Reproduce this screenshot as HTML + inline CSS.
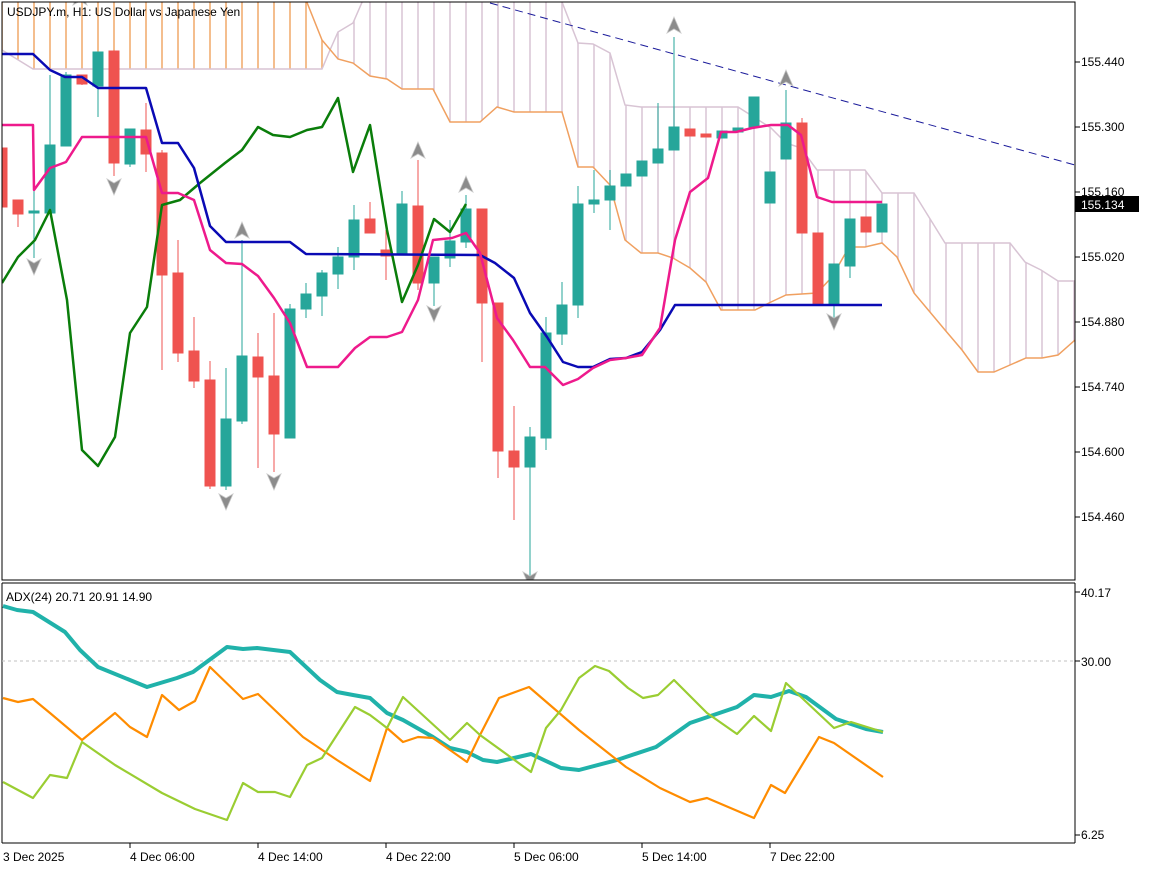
<!DOCTYPE html>
<html><head><meta charset="utf-8"><style>
body{margin:0;background:#fff;}
svg{display:block;font-family:"Liberation Sans","DejaVu Sans",sans-serif;}
</style></head><body>
<svg width="1152" height="870" viewBox="0 0 1152 870" xmlns="http://www.w3.org/2000/svg">
<defs>
<pattern id="ho" patternUnits="userSpaceOnUse" width="16" height="10"><line x1="2" y1="0" x2="2" y2="10" stroke="#f0a868" stroke-width="1.5"/></pattern>
<pattern id="ht" patternUnits="userSpaceOnUse" width="16" height="10"><line x1="2" y1="0" x2="2" y2="10" stroke="#d8c4d4" stroke-width="1.5"/></pattern>
<clipPath id="cm"><rect x="2" y="2" width="1073" height="578"/></clipPath>
<clipPath id="ca"><rect x="2" y="584" width="1073" height="259"/></clipPath>
</defs>
<rect width="1152" height="870" fill="#fff"/>
<g clip-path="url(#cm)">
<polygon fill="url(#ho)" points="2,0 306,0 322,40 330,50 322,69 33,69 2,50"/>
<polygon fill="url(#ht)" points="330,50 338,59 353,63 370,76 387,79 402,89 433,89 450,122 480,122 497,107 514,112 562,112 578,167 593,167 610,185 625,240 641,253 658,253 673,258 690,268 706,282 721,310 755,310 771,302 786,295 817,293 832,277 849,247 865,247 882,243 897,257 914,293 945,330 962,350 978,372 994,372 1010,365 1026,358 1042,358 1058,355 1075,340 1075,281 1058,281 1041,270 1025,262 1010,243 945,243 914,193 882,193 865,170 817,170 801,148 786,143 771,128 738,107 641,107 625,105 610,53 593,44 578,43 562,2 555,0 363,0 353,23 338,32"/>
<polyline fill="none" stroke="#d8c4d4" stroke-width="1.5" points="2,50 33,69 322,69 330,50 338,32 353,23 363,0 555,0 562,2 578,43 593,44 610,53 625,105 641,107 738,107 771,128 786,143 801,148 817,170 865,170 882,193 914,193 945,243 1010,243 1025,262 1041,270 1058,281 1075,281"/>
<polyline fill="none" stroke="#f0a060" stroke-width="1.5" points="306,0 322,40 338,59 353,63 370,76 387,79 402,89 433,89 450,122 480,122 497,107 514,112 562,112 578,167 593,167 610,185 625,240 641,253 658,253 673,258 690,268 706,282 721,310 755,310 771,302 786,295 817,293 832,277 849,247 865,247 882,243 897,257 914,293 945,330 962,350 978,372 994,372 1010,365 1026,358 1042,358 1058,355 1075,340"/>
<line x1="490" y1="3" x2="1075" y2="165" stroke="#1a1a9a" stroke-width="1" stroke-dasharray="8,5"/>
<g stroke-width="1">
<g stroke="#ef5350" fill="#ef5350">
<rect x="-3" y="148" width="10" height="59"/>
<line x1="18" y1="200" x2="18" y2="227"/><rect x="13" y="200" width="10" height="14"/>
<line x1="82" y1="75" x2="82" y2="85"/><rect x="77" y="75" width="10" height="9"/>
<line x1="114" y1="51" x2="114" y2="176"/><rect x="109" y="51" width="10" height="112"/>
<line x1="146" y1="103" x2="146" y2="172"/><rect x="141" y="130" width="10" height="24"/>
<line x1="162" y1="150" x2="162" y2="370"/><rect x="157" y="153" width="10" height="122"/>
<line x1="178" y1="240" x2="178" y2="362"/><rect x="173" y="273" width="10" height="80"/>
<line x1="194" y1="317" x2="194" y2="388"/><rect x="189" y="351" width="10" height="30"/>
<line x1="210" y1="361" x2="210" y2="489"/><rect x="205" y="380" width="10" height="106"/>
<line x1="258" y1="333" x2="258" y2="468"/><rect x="253" y="357" width="10" height="20"/>
<line x1="274" y1="313" x2="274" y2="472"/><rect x="269" y="376" width="10" height="58"/>
<line x1="370" y1="202" x2="370" y2="233"/><rect x="365" y="219" width="10" height="14"/>
<line x1="386" y1="230" x2="386" y2="280"/><rect x="381" y="250" width="10" height="6"/>
<line x1="418" y1="160" x2="418" y2="290"/><rect x="413" y="206" width="10" height="77"/>
<line x1="482" y1="209" x2="482" y2="362"/><rect x="477" y="209" width="10" height="94"/>
<line x1="498" y1="303" x2="498" y2="478"/><rect x="493" y="303" width="10" height="148"/>
<line x1="514" y1="406" x2="514" y2="520"/><rect x="509" y="451" width="10" height="16"/>
<rect x="685" y="129" width="10" height="7"/>
<rect x="701" y="134" width="10" height="3"/>
<line x1="802" y1="118" x2="802" y2="233"/><rect x="797" y="123" width="10" height="110"/>
<rect x="813" y="233" width="10" height="71"/>
<rect x="861" y="217" width="10" height="15"/>
</g>
<g stroke="#26a69a" fill="#26a69a">
<line x1="34" y1="150" x2="34" y2="258"/><rect x="29" y="211" width="10" height="2"/>
<line x1="50" y1="75" x2="50" y2="213"/><rect x="45" y="145" width="10" height="68"/>
<line x1="66" y1="72" x2="66" y2="146"/><rect x="61" y="75" width="10" height="71"/>
<line x1="98" y1="52" x2="98" y2="117"/><rect x="93" y="52" width="10" height="34"/>
<line x1="130" y1="129" x2="130" y2="167"/><rect x="125" y="129" width="10" height="35"/>
<line x1="226" y1="368" x2="226" y2="490"/><rect x="221" y="419" width="10" height="67"/>
<line x1="242" y1="240" x2="242" y2="424"/><rect x="237" y="356" width="10" height="65"/>
<line x1="290" y1="304" x2="290" y2="438"/><rect x="285" y="309" width="10" height="129"/>
<line x1="306" y1="283" x2="306" y2="318"/><rect x="301" y="294" width="10" height="15"/>
<line x1="322" y1="270" x2="322" y2="316"/><rect x="317" y="273" width="10" height="23"/>
<line x1="338" y1="247" x2="338" y2="289"/><rect x="333" y="257" width="10" height="17"/>
<line x1="354" y1="205" x2="354" y2="270"/><rect x="349" y="220" width="10" height="37"/>
<line x1="402" y1="191" x2="402" y2="253"/><rect x="397" y="204" width="10" height="49"/>
<line x1="434" y1="257" x2="434" y2="306"/><rect x="429" y="257" width="10" height="26"/>
<line x1="450" y1="220" x2="450" y2="267"/><rect x="445" y="241" width="10" height="17"/>
<line x1="466" y1="195" x2="466" y2="248"/><rect x="461" y="209" width="10" height="33"/>
<line x1="530" y1="427" x2="530" y2="578"/><rect x="525" y="437" width="10" height="30"/>
<line x1="546" y1="317" x2="546" y2="450"/><rect x="541" y="333" width="10" height="105"/>
<line x1="562" y1="282" x2="562" y2="345"/><rect x="557" y="305" width="10" height="29"/>
<line x1="578" y1="186" x2="578" y2="318"/><rect x="573" y="204" width="10" height="101"/>
<line x1="594" y1="170" x2="594" y2="213"/><rect x="589" y="200" width="10" height="4"/>
<line x1="610" y1="170" x2="610" y2="230"/><rect x="605" y="186" width="10" height="14"/>
<rect x="621" y="174" width="10" height="12"/>
<rect x="637" y="161" width="10" height="15"/>
<line x1="658" y1="103" x2="658" y2="163"/><rect x="653" y="149" width="10" height="14"/>
<line x1="674" y1="37" x2="674" y2="150"/><rect x="669" y="127" width="10" height="23"/>
<rect x="717" y="131" width="10" height="7"/>
<rect x="733" y="128" width="10" height="4"/>
<rect x="749" y="97" width="10" height="30"/>
<rect x="765" y="172" width="10" height="31"/>
<line x1="786" y1="90" x2="786" y2="159"/><rect x="781" y="123" width="10" height="36"/>
<line x1="834" y1="264" x2="834" y2="318"/><rect x="829" y="264" width="10" height="40"/>
<line x1="850" y1="219" x2="850" y2="278"/><rect x="845" y="219" width="10" height="47"/>
<rect x="877" y="204" width="10" height="28"/>
</g>
</g>
<polyline fill="none" stroke="#0a7d0a" stroke-width="2.5" stroke-linejoin="round" points="2,283 18,257 35,240 50,210 67,300 82,450 98,466 115,437 130,333 147,307 162,205 180,200 200,183 225,163 242,150 258,127 273,135 290,137 307,130 322,127 338,98 353,172 370,125 387,230 402,302 418,265 434,219 450,232 466,204"/>
<polyline fill="none" stroke="#0a0ab4" stroke-width="2.5" stroke-linejoin="round" points="2,54 33,54 50,70 65,77 82,77 98,88 146,88 162,143 178,143 194,168 210,226 226,242 290,242 306,254 480,255 495,263 514,278 530,313 547,337 563,362 578,367 593,367 610,359 626,358 642,352 660,330 675,305 882,305"/>
<polyline fill="none" stroke="#ee1a8c" stroke-width="2.5" stroke-linejoin="round" points="2,125 33,125 34,190 50,168 66,162 82,137 146,137 162,193 178,193 194,200 210,250 226,263 242,264 258,276 274,298 290,323 307,367 338,367 355,348 370,337 387,337 402,332 418,300 433,240 452,238 466,233 480,253 497,318 513,340 530,367 545,367 563,385 578,379 593,368 610,360 626,358 642,355 660,328 675,240 690,192 708,178 721,132 736,132 752,128 771,125 788,125 801,135 817,197 832,202 882,202"/>
<g fill="#8c8c8c" stroke="#c8c8c8" stroke-width="0.8">
<polygon points="80,-10 87,5 80,1 73,5"/>
<polygon points="242,222 249,238 242,234 235,238"/>
<polygon points="418,142 425,158 418,154 411,158"/>
<polygon points="466,176 473,192 466,188 459,192"/>
<polygon points="674,17 681,33 674,29 667,33"/>
<polygon points="786,70 793,86 786,82 779,86"/>
<polygon points="34,275 41,259 34,263 27,259"/>
<polygon points="114,195 121,179 114,183 107,179"/>
<polygon points="226,510 233,494 226,498 219,494"/>
<polygon points="274,490 281,474 274,478 267,474"/>
<polygon points="434,322 441,306 434,310 427,306"/>
<polygon points="530,588 537,572 530,576 523,572"/>
<polygon points="834,330 841,314 834,318 827,314"/>
</g>
</g>
<text x="7" y="16" font-size="12" fill="#000">USDJPY.m, H1:  US Dollar vs Japanese Yen</text>
<!-- frames -->
<rect x="2" y="2" width="1073" height="578" fill="none" stroke="#000" stroke-width="1"/>
<line x1="2" y1="583" x2="1075" y2="583" stroke="#000" stroke-width="1"/>
<line x1="2" y1="583" x2="2" y2="843" stroke="#000"/>
<line x1="1075" y1="583" x2="1075" y2="843" stroke="#000"/>
<line x1="2" y1="843" x2="1075" y2="843" stroke="#000"/>
<g font-size="12" fill="#000">
<g stroke="#000"><line x1="1075" y1="62" x2="1080" y2="62"/><line x1="1075" y1="127" x2="1080" y2="127"/><line x1="1075" y1="192" x2="1080" y2="192"/><line x1="1075" y1="257" x2="1080" y2="257"/><line x1="1075" y1="322" x2="1080" y2="322"/><line x1="1075" y1="387" x2="1080" y2="387"/><line x1="1075" y1="452" x2="1080" y2="452"/><line x1="1075" y1="517" x2="1080" y2="517"/></g>
<text x="1081" y="66">155.440</text>
<text x="1081" y="131">155.300</text>
<text x="1081" y="196">155.160</text>
<text x="1081" y="261">155.020</text>
<text x="1081" y="326">154.880</text>
<text x="1081" y="391">154.740</text>
<text x="1081" y="456">154.600</text>
<text x="1081" y="521">154.460</text>
<rect x="1075" y="196" width="64" height="16" fill="#000"/>
<text x="1081" y="209" fill="#fff">155.134</text>
</g>
<!-- ADX -->
<line x1="2" y1="661" x2="1075" y2="661" stroke="#c0c0c0" stroke-width="1" stroke-dasharray="3,3"/>
<g clip-path="url(#ca)" fill="none" stroke-linejoin="round">
<polyline stroke="#20b2aa" stroke-width="4" points="3,606 17,610 33,612 65,632 80,650 98,667 147,687 177,678 193,672 227,647 243,649 257,648 290,652 320,680 337,692 353,695 370,698 387,713 403,720 433,737 450,748 467,752 483,760 497,762 514,758 531,754 561,768 579,770 617,760 656,747 690,723 737,707 754,695 771,697 789,691 806,697 836,719 866,729 883,732"/>
<polyline stroke="#ff8c00" stroke-width="2.2" points="3,698 18,702 33,699 50,713 82,740 115,713 130,727 147,737 162,695 179,710 195,701 210,667 243,699 258,694 303,737 337,760 370,781 387,728 403,742 418,737 433,738 467,762 480,735 499,698 529,687 579,730 626,767 660,788 690,802 707,798 754,818 771,785 785,793 819,737 834,743 883,777"/>
<polyline stroke="#9acd32" stroke-width="2.2" points="3,782 33,798 50,775 67,778 82,742 115,765 162,793 195,809 227,820 243,783 258,792 275,792 290,797 307,765 322,758 355,707 370,715 387,728 403,697 450,740 467,723 480,735 531,772 546,728 561,710 579,678 595,666 609,671 628,688 643,698 658,695 674,680 707,713 737,734 754,716 771,731 786,683 834,728 851,722 883,732"/>
</g>
<text x="6" y="601" font-size="12" fill="#000">ADX(24) 20.71 20.91 14.90</text>
<g stroke="#000"><line x1="1075" y1="592" x2="1080" y2="592"/><line x1="1075" y1="661" x2="1080" y2="661"/><line x1="1075" y1="835" x2="1080" y2="835"/></g>
<g font-size="12" fill="#000">
<text x="1081" y="597">40.17</text>
<text x="1081" y="666">30.00</text>
<text x="1081" y="839">6.25</text>
</g>
<g stroke="#000"><line x1="130" y1="843" x2="130" y2="848"/><line x1="258" y1="843" x2="258" y2="848"/><line x1="386" y1="843" x2="386" y2="848"/><line x1="514" y1="843" x2="514" y2="848"/><line x1="642" y1="843" x2="642" y2="848"/><line x1="770" y1="843" x2="770" y2="848"/></g>
<g font-size="12" fill="#000">
<text x="3" y="861">3 Dec 2025</text>
<text x="130" y="861">4 Dec 06:00</text>
<text x="258" y="861">4 Dec 14:00</text>
<text x="386" y="861">4 Dec 22:00</text>
<text x="514" y="861">5 Dec 06:00</text>
<text x="642" y="861">5 Dec 14:00</text>
<text x="770" y="861">7 Dec 22:00</text>
</g>
</svg>
</body></html>
